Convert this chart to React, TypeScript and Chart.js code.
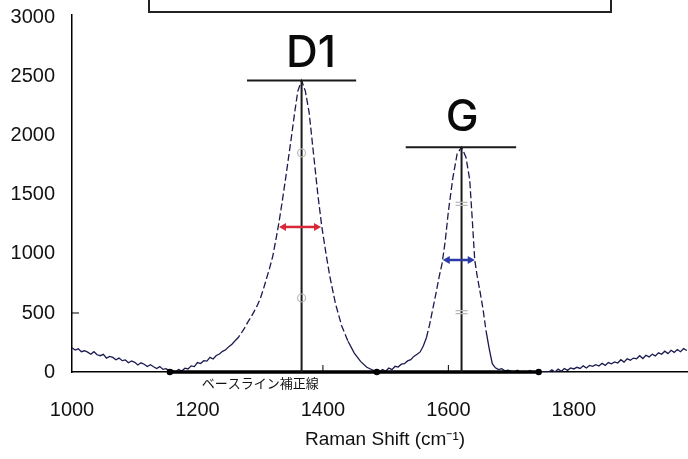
import React, { useEffect, useRef } from "react";
import { Chart, registerables } from "chart.js";

Chart.register(...registerables);

// Raman spectrum (wavenumber cm-1, intensity)
const wavenumbers = [
  1000, 1005, 1010, 1015, 1020, 1025, 1030, 1035, 1040, 1045, 1050, 1055, 1060, 1065, 1070, 1075,
  1080, 1085, 1090, 1095, 1100, 1105, 1110, 1115, 1120, 1125, 1130, 1135, 1140, 1145, 1150, 1155,
  1160, 1165, 1170, 1175, 1180, 1185, 1190, 1195, 1200, 1205, 1210, 1215, 1220, 1225, 1230, 1235,
  1240, 1245, 1250, 1255, 1260, 1265, 1270, 1275, 1280, 1285, 1290, 1295, 1300, 1305, 1310, 1315,
  1320, 1325, 1330, 1335, 1340, 1345, 1350, 1355, 1360, 1366, 1372, 1378, 1385, 1392, 1398, 1405,
  1411, 1420, 1430, 1440, 1450, 1460, 1470, 1480, 1485, 1490, 1495, 1500, 1505, 1510, 1515, 1520,
  1525, 1530, 1535, 1540, 1545, 1550, 1555, 1560, 1565, 1570, 1575, 1580, 1585, 1590, 1595, 1600,
  1607, 1614, 1621, 1628, 1634, 1638, 1642, 1646, 1650, 1655, 1660, 1665, 1670, 1675, 1680, 1685,
  1690, 1695, 1700, 1705, 1710, 1715, 1720, 1725, 1730, 1735, 1740, 1745, 1750, 1755, 1760, 1765,
  1770, 1775, 1780, 1785, 1790, 1795, 1800, 1805, 1810, 1815, 1820, 1825, 1830, 1835, 1840, 1845,
  1850, 1855, 1860, 1865, 1870, 1875, 1880, 1885, 1890, 1895, 1900, 1905, 1910, 1915, 1920, 1925,
  1930, 1935, 1940, 1945, 1950, 1955, 1960, 1965, 1970, 1975, 1980,
];
const intensities = [
  205, 186, 196, 172, 180, 168, 150, 172, 146, 138, 150, 118, 132, 124, 104, 118,
  96, 102, 78, 94, 82, 60, 78, 66, 46, 62, 44, 30, 46, 22, 28, 10,
  16, 0, 22, 8, 32, 26, 52, 46, 80, 72, 96, 92, 124, 110, 140, 152,
  175, 188, 215, 235, 265, 292, 330, 372, 420, 462, 510, 560, 620, 700, 790, 880,
  980, 1120, 1270, 1440, 1620, 1810, 2000, 2200, 2380, 2470, 2380, 2200, 1850, 1500, 1240, 1000,
  810, 580, 390, 260, 160, 90, 40, 15, 5, 0, 20, 6, 34, 20, 48, 42,
  66, 70, 94, 104, 132, 150, 170, 220, 290, 400, 530, 660, 800, 920, 1110, 1360,
  1640, 1850, 1905, 1820, 1630, 1300, 950, 810, 695, 540, 350, 200, 70, 35, 20, 28,
  10, 15, 8, 0, 14, 0, 5, 0, 12, 0, 3, 0, 0, 0, 0, 18,
  0, 24, 6, 30, 14, 34, 26, 40, 30, 52, 34, 56, 48, 62, 50, 74,
  56, 80, 70, 86, 76, 104, 84, 112, 100, 118, 112, 138, 114, 142, 128, 150,
  136, 162, 150, 176, 156, 184, 166, 190, 172, 198, 182,
];

const xTickValues = [1000, 1200, 1400, 1600, 1800];
const yTickValues = [0, 500, 1000, 1500, 2000, 2500, 3000];

// Peak annotations (data units)
const peakNames = ["D1", "G"];
const peakPositions = [1366, 1621];
const peakHeights = [2470, 1905];
const capStarts = [1279, 1532];
const capEnds = [1453, 1708];
const labelWavenumbers = [1381, 1622];
const labelIntensities = [2695, 2153];
const fwhmLevels = [1229, 949];
const fwhmStarts = [1330, 1591];
const fwhmEnds = [1397, 1642];
const markerLevels = [
  [1856, 627],
  [1424, 508],
];
const baselineKnots = [1156, 1486, 1744];
const baselineLabel = "ベースライン補正線";
const baselineLabelWavenumber = 1300;
const xAxisTitle = "Raman Shift (cm⁻¹)";
const innerYTicks = [500];
const innerXTicks = [1400, 1600];

function drawArrow(ctx: CanvasRenderingContext2D, x1: number, x2: number, y: number, color: string) {
  const head = 7;
  const hw = 4;
  ctx.strokeStyle = color;
  ctx.fillStyle = color;
  ctx.lineWidth = 2.5;
  ctx.beginPath();
  ctx.moveTo(x1 + head - 1, y);
  ctx.lineTo(x2 - head + 1, y);
  ctx.stroke();
  ctx.beginPath();
  ctx.moveTo(x1, y);
  ctx.lineTo(x1 + head, y - hw);
  ctx.lineTo(x1 + head, y + hw);
  ctx.closePath();
  ctx.fill();
  ctx.beginPath();
  ctx.moveTo(x2, y);
  ctx.lineTo(x2 - head, y - hw);
  ctx.lineTo(x2 - head, y + hw);
  ctx.closePath();
  ctx.fill();
}

const annotationPlugin = {
  id: "ramanAnnotations",
  afterDatasetsDraw(chart: any) {
    const ctx: CanvasRenderingContext2D = chart.ctx;
    const xs = chart.scales.x;
    const ys = chart.scales.y;
    const X = (v: number) => xs.getPixelForValue(v);
    const Y = (v: number) => ys.getPixelForValue(v);
    const y0 = Y(0);
    ctx.save();

    // inner tick marks
    ctx.strokeStyle = "#000";
    ctx.lineWidth = 1;
    innerYTicks.forEach((v) => {
      ctx.beginPath();
      ctx.moveTo(X(xs.min), Y(v));
      ctx.lineTo(X(xs.min) + 7, Y(v));
      ctx.stroke();
    });
    innerXTicks.forEach((v) => {
      ctx.beginPath();
      ctx.moveTo(X(v), y0);
      ctx.lineTo(X(v), y0 - 7);
      ctx.stroke();
    });

    // baseline correction line
    ctx.strokeStyle = "#000";
    ctx.lineWidth = 3.5;
    ctx.beginPath();
    ctx.moveTo(X(baselineKnots[0]), y0);
    ctx.lineTo(X(baselineKnots[baselineKnots.length - 1]), y0);
    ctx.stroke();
    ctx.fillStyle = "#000";
    baselineKnots.forEach((k) => {
      ctx.beginPath();
      ctx.arc(X(k), y0, 3.2, 0, Math.PI * 2);
      ctx.fill();
    });
    ctx.font = "13px 'Noto Sans CJK JP'";
    ctx.textAlign = "center";
    ctx.textBaseline = "middle";
    ctx.fillStyle = "#111";
    ctx.fillText(baselineLabel, X(baselineLabelWavenumber), y0 + 11);

    // peaks
    peakNames.forEach((name, i) => {
      ctx.strokeStyle = "#1a1a1a";
      ctx.lineWidth = 2;
      ctx.beginPath();
      ctx.moveTo(X(peakPositions[i]), y0);
      ctx.lineTo(X(peakPositions[i]), Y(peakHeights[i]));
      ctx.stroke();
      ctx.beginPath();
      ctx.moveTo(X(capStarts[i]), Y(peakHeights[i]));
      ctx.lineTo(X(capEnds[i]), Y(peakHeights[i]));
      ctx.stroke();

      ctx.fillStyle = "#0a0a0a";
      ctx.font = "500 44px Inter";
      ctx.textAlign = "center";
      ctx.textBaseline = "middle";
      ctx.fillText(name, X(labelWavenumbers[i]), Y(labelIntensities[i]));

      // faint markers
      ctx.strokeStyle = "#b8b8b8";
      ctx.lineWidth = 1.2;
      markerLevels[i].forEach((m) => {
        const px = X(peakPositions[i]);
        const py = Y(m);
        if (i === 0) {
          ctx.beginPath();
          ctx.arc(px, py, 4, 0, Math.PI * 2);
          ctx.stroke();
        } else {
          ctx.beginPath();
          ctx.moveTo(px - 6, py - 1.5);
          ctx.lineTo(px + 6, py - 1.5);
          ctx.moveTo(px - 6, py + 1.5);
          ctx.lineTo(px + 6, py + 1.5);
          ctx.stroke();
        }
      });

      drawArrow(ctx, X(fwhmStarts[i]), X(fwhmEnds[i]), Y(fwhmLevels[i]), i === 0 ? "#d8283a" : "#2a3aa8");
    });

    // empty box at top
    ctx.strokeStyle = "#222";
    ctx.lineWidth = 2;
    ctx.strokeRect(149, -5, 462, 17);

    // axis title
    ctx.fillStyle = "#111";
    ctx.font = "19px 'Liberation Sans'";
    ctx.textAlign = "center";
    ctx.textBaseline = "middle";
    ctx.fillText(xAxisTitle, (chart.chartArea.left + chart.chartArea.right) / 2 + 5, 440);

    ctx.restore();
  },
};

export default function App() {
  const canvasRef = useRef<HTMLCanvasElement | null>(null);

  useEffect(() => {
    if (!canvasRef.current) return;
    const points = wavenumbers.map((w, i) => ({ x: w, y: intensities[i] }));
    const chart = new Chart(canvasRef.current, {
      type: "line",
      data: {
        datasets: [
          {
            data: points,
            borderColor: "#1a1a4e",
            borderWidth: 1.3,
            pointRadius: 0,
            tension: 0,
            fill: false,
            segment: {
              borderDash: (c: any) =>
                c.p0.parsed.y > 250 && c.p1.parsed.y > 250 ? [7, 3] : undefined,
            },
          },
        ],
      },
      options: {
        animation: false,
        responsive: false,
        maintainAspectRatio: false,
        layout: { padding: { top: 15, left: 0, right: 0, bottom: 0 } },
        plugins: {
          legend: { display: false },
          tooltip: { enabled: false },
          title: { display: false },
        },
        scales: {
          x: {
            type: "linear",
            min: 1000,
            max: 1982,
            afterBuildTicks: (scale: any) => {
              scale.ticks = xTickValues.map((v) => ({ value: v }));
            },
            afterFit: (scale: any) => {
              scale.height = 87;
              scale.paddingLeft = 0;
              scale.paddingRight = 0;
            },
            grid: { display: false, drawTicks: false },
            border: { display: true, color: "#000", width: 1.5 },
            ticks: {
              color: "#111",
              font: { family: "'Liberation Sans'", size: 20 },
              padding: 26,
              maxRotation: 0,
              autoSkip: false,
              callback: (v: any) => String(v),
            },
          },
          y: {
            type: "linear",
            min: 0,
            max: 3025,
            afterBuildTicks: (scale: any) => {
              scale.ticks = yTickValues.map((v) => ({ value: v }));
            },
            afterFit: (scale: any) => {
              scale.width = 72;
              scale.paddingTop = 0;
              scale.paddingBottom = 0;
            },
            grid: { display: false, drawTicks: false },
            border: { display: true, color: "#000", width: 1.5 },
            ticks: {
              color: "#111",
              font: { family: "'Liberation Sans'", size: 20 },
              padding: 17,
              callback: (v: any) => String(v),
            },
          },
        },
      },
      plugins: [annotationPlugin],
    });
    return () => chart.destroy();
  }, []);

  return (
    <div style={{ position: "fixed", left: 0, top: 0, width: 688, height: 459, background: "#fff" }}>
      <canvas ref={canvasRef} width={688} height={459} style={{ width: 688, height: 459 }} />
    </div>
  );
}
